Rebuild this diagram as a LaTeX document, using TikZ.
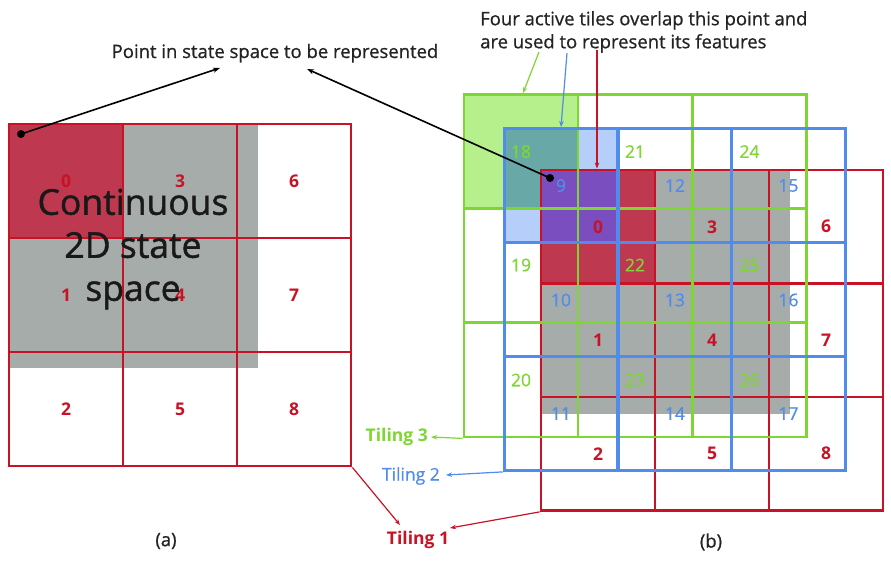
\documentclass[tikz,border=0pt]{standalone}
\usepackage{fontspec}
\setmainfont{Open Sans}
\newfontfamily\semifont[FakeBold=0.8]{Open Sans}
\newfontfamily\bigfont[FakeBold=1.2]{Open Sans}
\usetikzlibrary{arrows.meta}
\definecolor{tred}{RGB}{200,18,38}
\definecolor{tgreen}{RGB}{126,214,50}
\definecolor{tblue}{RGB}{80,140,235}
\definecolor{sgray}{RGB}{166,172,170}
\definecolor{fred}{RGB}{190,56,80}
\definecolor{fgreen}{RGB}{182,240,140}
\definecolor{fblue}{RGB}{182,206,250}
\definecolor{fteal}{RGB}{104,168,166}
\definecolor{fpurple}{RGB}{122,78,190}
\definecolor{txt}{RGB}{35,35,35}
\newcommand\tnumfont{\fontsize{17.5}{17.5}\selectfont}
\tikzset{
  cell/.style={minimum width=114pt, minimum height=114pt, inner sep=0pt, line width=2.8pt},
  rcell/.style={cell, draw=tred, text=tred, font=\tnumfont\bfseries},
  bcell/.style={cell, draw=tblue, text=tblue, font=\tnumfont\semifont},
  gcell/.style={cell, draw=tgreen, text=tgreen, font=\tnumfont\semifont},
  ptr/.style={draw=black, line width=1.6pt, -{Stealth[length=7pt,width=5pt]}},
  rptr/.style={draw=tred, line width=1.2pt, -{Stealth[length=6pt,width=4.5pt]}},
  gptr/.style={draw=tgreen, line width=1.2pt, -{Stealth[length=6pt,width=4.5pt]}},
  bptr/.style={draw=tblue, line width=1.2pt, -{Stealth[length=6pt,width=4.5pt]}},
  dot/.style={circle, fill=black, inner sep=0pt, minimum size=8pt},
  lbl/.style={text=txt, font=\fontsize{18.5}{23}\semifont, inner sep=0pt},
}
\begin{document}
\begin{tikzpicture}[x=1pt,y=-1pt]
\useasboundingbox (0,0) rectangle (891,565);
% ---------- (a) ----------
\fill[sgray] (9,124) rectangle (258,368);
\fill[fred] (9,124) rectangle (124,238);
\foreach \i/\cx in {0/66,1/180,2/294}{
  \foreach \j/\cy in {0/181,1/295,2/409}{
    \pgfmathtruncatemacro\n{3*\i+\j}
    \node[rcell] (l\n) at (\cx,\cy) {\n};
  }
}
\node[text=black!90, font=\fontsize{35.5}{43}\bigfont, align=center, inner sep=0pt] (cs) at (133,249) {Continuous\\2D state\\space};
\node[dot] (dotL) at (21,134) {};
% ---------- (b) ----------
\fill[sgray] (541,170) rectangle (790,414);
\fill[fgreen] (464,95) rectangle (578,208);
\fill[fblue] (504,128) rectangle (618,243);
\fill[fteal] (504,128) rectangle (578,208);
\fill[fred] (541,170) rectangle (655,283);
\fill[fpurple] (541,170) rectangle (618,243);
% tiling 1 (red)
\foreach \i/\cx in {0/598,1/712,2/826}{
  \foreach \j/\cy in {0/226.75,1/340.25,2/453.75}{
    \pgfmathtruncatemacro\n{3*\i+\j}
    \node[rcell, minimum height=113.5pt] (r\n) at (\cx,\cy) {\n};
  }
}
% tiling 3 (green)
\foreach \i/\cx in {0/521,1/635,2/749.5}{
  \foreach \j/\cy in {0/151.5,1/265,2/380}{
    \pgfmathtruncatemacro\n{18+3*\i+\j}
    \node[gcell] (g\n) at (\cx,\cy) {\n};
  }
}
% tiling 2 (blue)
\foreach \i/\cx in {0/561,1/675,2/788.5}{
  \foreach \j/\cy in {0/185.5,1/300,2/413.5}{
    \pgfmathtruncatemacro\n{9+3*\i+\j}
    \node[bcell, minimum width=113.7pt] (b\n) at (\cx,\cy) {\n};
  }
}
\node[dot] (dotR) at (550,178) {};
% ---------- texts ----------
\node[lbl, anchor=base] (pt) at (275,58) {Point in state space to be represented};
\node[lbl, anchor=north west, align=left] (fa) at (480,11) {Four active tiles overlap this point and\\are used to represent its features};
\node[text=tgreen, font=\fontsize{17.5}{17.5}\selectfont\bfseries, anchor=east, inner sep=0pt] (t3) at (428,437) {Tiling 3};
\node[text=tblue, font=\fontsize{17.5}{17.5}\semifont, anchor=east, inner sep=0pt] (t2) at (440,476) {Tiling 2};
\node[text=tred, font=\fontsize{17.5}{17.5}\selectfont\bfseries, inner sep=0pt] (t1) at (418,540) {Tiling 1};
\node[lbl] (ca) at (166,541) {(a)};
\node[lbl] (cb) at (711,542) {(b)};
% ---------- connectors ----------
\coordinate (pa) at (220,68);
\coordinate (pb) at (307,69);
\draw[ptr] (dotL.center) -- (pa);
\draw[ptr] (dotR.center) -- (pb);
\coordinate (fg) at (539,52);
\coordinate (fb) at (567,53);
\coordinate (fr) at (597,50);
\draw[gptr] (fg) -- ([xshift=2pt]g18.north);
\draw[bptr] (fb) -- (b9.north);
\draw[rptr] (fr) -- ([xshift=-1pt]r0.north);
\coordinate (a3) at (431,437);
\coordinate (a2) at (446,475);
\coordinate (a1l) at (400,525);
\coordinate (a1r) at (450,528);
\draw[gptr] (g20.south west) -- (a3);
\draw[bptr] (b11.south west) -- (a2);
\draw[rptr] (l8.south east) -- (a1l);
\draw[rptr] (r2.south west) -- (a1r);
\end{tikzpicture}
\end{document}
